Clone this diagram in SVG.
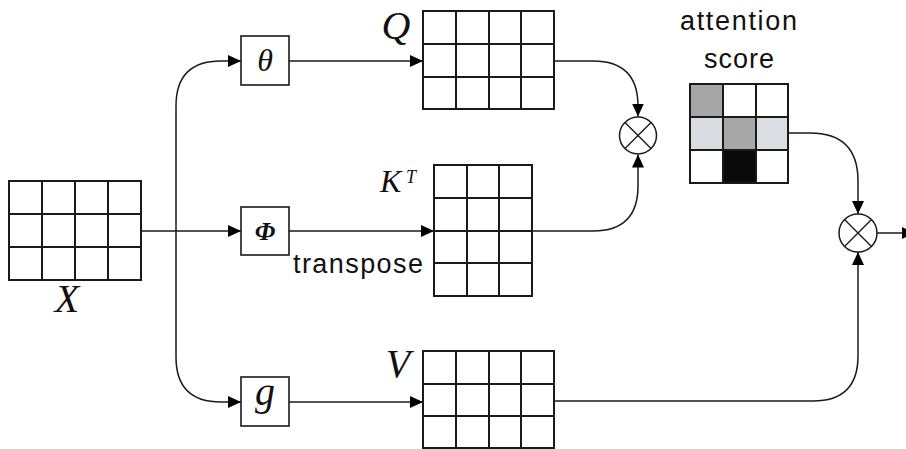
<svg xmlns="http://www.w3.org/2000/svg" width="906" height="449" viewBox="0 0 906 449">
<defs>
<marker id="ah" viewBox="0 0 13 12" refX="13" refY="6" markerWidth="13" markerHeight="12" markerUnits="userSpaceOnUse" orient="auto">
<path d="M0,0 L13,6 L0,12 z" fill="#000"/>
</marker>
</defs>
<style>
.grid{fill:none;stroke:#1a1a1a;stroke-width:2}
.box{fill:#fff;stroke:#1a1a1a;stroke-width:1.6}
.conn{fill:none;stroke:#1a1a1a;stroke-width:1.5}
.math{font-family:"Liberation Serif","DejaVu Serif",serif;font-style:italic;fill:#111}
.sans{font-family:"Liberation Sans","Open Sans",sans-serif;fill:#111}
</style>
<rect width="906" height="449" fill="#fff"/>

<g id="connectors">
<path class="conn" d="M141,231 H241" marker-end="url(#ah)"/>
<path class="conn" d="M176,231 V106 Q176,61 221,61 H241" marker-end="url(#ah)"/>
<path class="conn" d="M176,231 V357 Q176,402 221,402 H241" marker-end="url(#ah)"/>
<path class="conn" d="M289,61 H423" marker-end="url(#ah)"/>
<path class="conn" d="M289,231 H434" marker-end="url(#ah)"/>
<path class="conn" d="M289,402 H423" marker-end="url(#ah)"/>
<path class="conn" d="M554,61 H593 Q638,61 638,106 V116.5" marker-end="url(#ah)"/>
<path class="conn" d="M532,231 H593 Q638,231 638,186 V154.5" marker-end="url(#ah)"/>
<path class="conn" d="M788,133 H810 Q858,133 858,181 V214" marker-end="url(#ah)"/>
<path class="conn" d="M554,401 H813 Q858,401 858,356 V252" marker-end="url(#ah)"/>
<path class="conn" d="M877,233 H902"/>
<path d="M902,227 L914,233 L902,239 z" fill="#000"/>
</g>

<g id="X">
<path class="grid" d="M9,181 H141 V280 H9 Z M9,214 H141 M9,247 H141 M42,181 V280 M75,181 V280 M108,181 V280"/>
<text class="math" x="67" y="312" font-size="40" text-anchor="middle">X</text>
</g>

<g id="theta">
<rect class="box" x="241" y="36" width="48" height="49"/>
<text class="math" x="265" y="71" font-size="32" text-anchor="middle">θ</text>
</g>

<g id="phi">
<rect class="box" x="241" y="207" width="48" height="48"/>
<text class="math" x="265" y="240" font-size="26" font-weight="bold" text-anchor="middle">Φ</text>
<text class="sans" x="293" y="273" font-size="27" textLength="130" lengthAdjust="spacing">transpose</text>
</g>

<g id="g">
<rect class="box" x="241" y="377" width="48" height="49"/>
<text class="math" x="265" y="405" font-size="40" text-anchor="middle">g</text>
</g>

<g id="Q">
<path class="grid" d="M423,11 H554 V109 H423 Z M423,44 H554 M423,77 H554 M456,11 V109 M489,11 V109 M521,11 V109"/>
<text class="math" x="396" y="39" font-size="40" text-anchor="middle">Q</text>
</g>

<g id="KT">
<path class="grid" d="M434,165 H532 V296 H434 Z M434,198 H532 M434,231 H532 M434,263 H532 M467,165 V296 M499,165 V296"/>
<text class="math" x="380" y="192" font-size="32">K</text>
<text class="math" x="406" y="183" font-size="18">T</text>
</g>

<g id="V">
<path class="grid" d="M423,351 H554 V448 H423 Z M423,384 H554 M423,416 H554 M456,351 V448 M489,351 V448 M521,351 V448"/>
<text class="math" x="398" y="377" font-size="40" text-anchor="middle">V</text>
</g>

<g id="mul1">
<circle cx="638" cy="135.5" r="18.5" fill="#fff" stroke="#1a1a1a" stroke-width="1.5"/>
<path d="M625,122.5 L651,148.5 M651,122.5 L625,148.5" stroke="#1a1a1a" stroke-width="1.4"/>
</g>

<g id="attention">
<text class="sans" x="738.5" y="30" font-size="27" text-anchor="middle" textLength="117" lengthAdjust="spacing">attention</text>
<text class="sans" x="739" y="68" font-size="27" text-anchor="middle" textLength="70" lengthAdjust="spacing">score</text>
<rect x="690" y="84" width="33" height="33" fill="#a5a6a5"/>
<rect x="690" y="117" width="33" height="33" fill="#d9dce0"/>
<rect x="723" y="117" width="33" height="33" fill="#a6a7a6"/>
<rect x="756" y="117" width="32" height="33" fill="#dadde1"/>
<rect x="723" y="150" width="33" height="33" fill="#0a0a0a"/>
<path class="grid" d="M690,84 H788 V183 H690 Z M690,117 H788 M690,150 H788 M723,84 V183 M756,84 V183"/>
</g>

<g id="mul2">
<circle cx="858" cy="233" r="19" fill="#fff" stroke="#1a1a1a" stroke-width="1.5"/>
<path d="M844.5,219.5 L871.5,246.5 M871.5,219.5 L844.5,246.5" stroke="#1a1a1a" stroke-width="1.4"/>
</g>
</svg>
